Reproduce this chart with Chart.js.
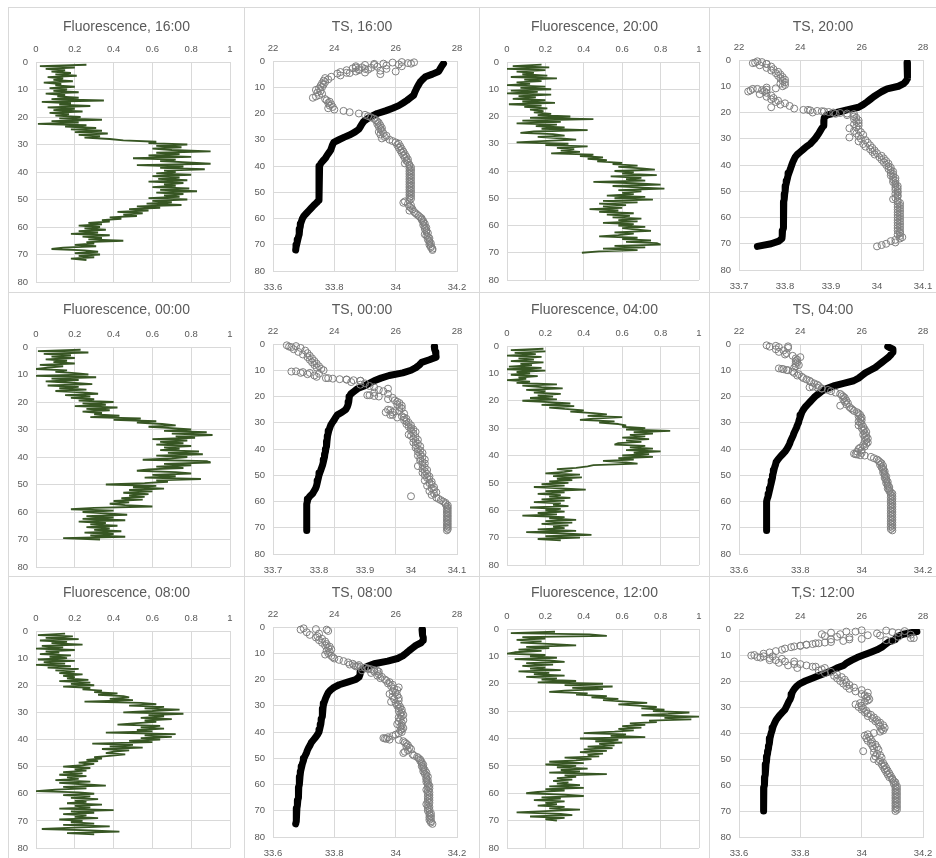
<!DOCTYPE html>
<html>
<head>
<meta charset="utf-8">
<title>Fluorescence and TS profiles</title>
<script src="https://cdn.jsdelivr.net/npm/chart.js@4.4.1/dist/chart.umd.min.js"></script>
<style>
  html, body { margin: 0; padding: 0; background: #fff; }
  body { position: relative; width: 936px; height: 858px; overflow: hidden; }
  .cell { position: absolute; box-sizing: border-box; border: 1px solid #d9d9d9; }
  canvas { position: absolute; }
</style>
</head>
<body>
<script>
// ===== DEPTHS (m) =====
// fluorescence and salinity samples every 0.5 m, temperature every 1 m
const depthF = [
  1, 1.5, 2, 2.5, 3, 3.5, 4, 4.5, 5, 5.5,
  6, 6.5, 7, 7.5, 8, 8.5, 9, 9.5, 10, 10.5,
  11, 11.5, 12, 12.5, 13, 13.5, 14, 14.5, 15, 15.5,
  16, 16.5, 17, 17.5, 18, 18.5, 19, 19.5, 20, 20.5,
  21, 21.5, 22, 22.5, 23, 23.5, 24, 24.5, 25, 25.5,
  26, 26.5, 27, 27.5, 28, 28.5, 29, 29.5, 30, 30.5,
  31, 31.5, 32, 32.5, 33, 33.5, 34, 34.5, 35, 35.5,
  36, 36.5, 37, 37.5, 38, 38.5, 39, 39.5, 40, 40.5,
  41, 41.5, 42, 42.5, 43, 43.5, 44, 44.5, 45, 45.5,
  46, 46.5, 47, 47.5, 48, 48.5, 49, 49.5, 50, 50.5,
  51, 51.5, 52, 52.5, 53, 53.5, 54, 54.5, 55, 55.5,
  56, 56.5, 57, 57.5, 58, 58.5, 59, 59.5, 60, 60.5,
  61, 61.5, 62, 62.5, 63, 63.5, 64, 64.5, 65, 65.5,
  66, 66.5, 67, 67.5, 68, 68.5, 69, 69.5, 70, 70.5,
  71, 71.5, 72, 72.5, 73, 73.5, 74, 74.5, 75
];
const depthT = [
  1, 2, 3, 4, 5, 6, 7, 8, 9, 10,
  11, 12, 13, 14, 15, 16, 17, 18, 19, 20,
  21, 22, 23, 24, 25, 26, 27, 28, 29, 30,
  31, 32, 33, 34, 35, 36, 37, 38, 39, 40,
  41, 42, 43, 44, 45, 46, 47, 48, 49, 50,
  51, 52, 53, 54, 55, 56, 57, 58, 59, 60,
  61, 62, 63, 64, 65, 66, 67, 68, 69, 70,
  71, 72, 73, 74, 75
];

// ===== FLUORESCENCE =====
const fluor1600 = [
  0.26,0.02,0.20,0.05,0.15,0.08,0.18,0.10,0.21,0.06,
  0.14,0.09,0.19,0.04,0.13,0.10,0.20,0.07,0.16,0.09,
  0.22,0.05,0.15,0.11,0.22,0.08,0.35,0.03,0.18,0.12,
  0.28,0.06,0.20,0.09,0.24,0.07,0.17,0.10,0.23,0.12,
  0.34,0.08,0.22,0.01,0.26,0.15,0.31,0.18,0.34,0.20,
  0.37,0.22,0.33,0.25,0.38,0.45,0.62,0.58,0.78,0.62,
  0.75,0.60,0.70,0.90,0.62,0.74,0.58,0.80,0.50,0.72,
  0.64,0.78,0.90,0.52,0.76,0.64,0.87,0.66,0.72,0.62,
  0.80,0.60,0.74,0.63,0.78,0.58,0.76,0.66,0.72,0.60,
  0.79,0.64,0.83,0.62,0.76,0.66,0.74,0.58,0.78,0.60,
  0.70,0.57,0.75,0.52,0.64,0.48,0.58,0.42,0.55,0.45,
  0.52,0.38,0.44,0.34,0.38,0.27,0.34,0.22,0.33,0.25,
  0.36,0.22,0.32,0.18,0.38,0.24,0.34,0.27,0.45,0.26,
  0.30,0.20,0.31,0.14,0.08,0.25,0.32,0.20,0.33,0.22,
  0.30,0.18,0.26
];
const fluor2000 = [
  0.18,0.03,0.22,0.00,0.20,0.05,0.14,0.08,0.21,0.02,
  0.26,0.09,0.18,0.05,0.12,0.00,0.20,0.07,0.23,0.02,
  0.16,0.00,0.23,0.06,0.15,0.03,0.20,0.08,0.25,0.01,
  0.18,0.09,0.21,0.12,0.19,0.14,0.23,0.16,0.33,0.12,
  0.45,0.08,0.28,0.05,0.26,0.15,0.30,0.18,0.42,0.14,
  0.07,0.24,0.30,0.16,0.28,0.36,0.18,0.05,0.32,0.20,
  0.42,0.26,0.35,0.28,0.38,0.23,0.45,0.38,0.50,0.42,
  0.52,0.47,0.60,0.55,0.68,0.58,0.70,0.77,0.56,0.66,
  0.60,0.78,0.54,0.70,0.62,0.72,0.45,0.66,0.80,0.55,
  0.68,0.82,0.58,0.70,0.60,0.66,0.52,0.72,0.56,0.76,
  0.50,0.68,0.48,0.62,0.50,0.60,0.43,0.58,0.48,0.66,
  0.52,0.64,0.55,0.70,0.58,0.68,0.50,0.66,0.58,0.72,
  0.60,0.68,0.75,0.56,0.66,0.58,0.48,0.68,0.60,0.75,
  0.62,0.78,0.80,0.56,0.72,0.50,0.68,0.48,0.39
];
const fluor0000 = [
  0.23,0.01,0.27,0.04,0.18,0.08,0.20,0.05,0.16,0.09,
  0.20,0.02,0.14,0.06,0.00,0.16,0.10,0.20,0.27,0.00,
  0.31,0.08,0.22,0.05,0.18,0.29,0.06,0.22,0.12,0.26,
  0.10,0.24,0.32,0.15,0.28,0.18,0.30,0.22,0.40,0.24,
  0.36,0.20,0.42,0.26,0.38,0.24,0.34,0.30,0.43,0.28,
  0.54,0.40,0.62,0.52,0.65,0.72,0.58,0.70,0.80,0.66,
  0.88,0.70,0.91,0.72,0.82,0.60,0.78,0.64,0.76,0.62,
  0.80,0.66,0.74,0.64,0.84,0.68,0.86,0.62,0.78,0.70,
  0.55,0.88,0.90,0.66,0.80,0.62,0.76,0.58,0.52,0.72,
  0.80,0.60,0.72,0.56,0.85,0.62,0.68,0.56,0.36,0.62,
  0.50,0.66,0.48,0.60,0.45,0.58,0.48,0.56,0.44,0.55,
  0.40,0.48,0.38,0.46,0.60,0.30,0.18,0.40,0.24,0.36,
  0.47,0.26,0.40,0.24,0.46,0.22,0.36,0.28,0.42,0.26,
  0.38,0.30,0.44,0.25,0.40,0.28,0.46,0.14,0.33
];
const fluor0400 = [
  0.19,0.02,0.20,0.04,0.15,0.00,0.18,0.06,0.14,0.02,
  0.19,0.07,0.13,0.01,0.18,0.00,0.20,0.05,0.12,0.02,
  0.16,0.06,0.10,0.00,0.12,0.05,0.26,0.08,0.18,0.29,
  0.10,0.20,0.14,0.28,0.16,0.24,0.12,0.26,0.08,0.22,
  0.33,0.18,0.35,0.22,0.30,0.40,0.33,0.45,0.52,0.42,
  0.60,0.45,0.38,0.56,0.48,0.58,0.62,0.60,0.72,0.62,
  0.85,0.66,0.76,0.64,0.72,0.60,0.74,0.62,0.70,0.58,
  0.56,0.72,0.64,0.76,0.62,0.80,0.66,0.74,0.60,0.76,
  0.58,0.66,0.50,0.62,0.68,0.45,0.42,0.36,0.26,0.34,
  0.30,0.20,0.38,0.24,0.39,0.26,0.34,0.22,0.32,0.18,
  0.30,0.14,0.28,0.41,0.20,0.30,0.16,0.28,0.22,0.33,
  0.18,0.30,0.14,0.28,0.24,0.32,0.12,0.28,0.20,0.30,
  0.16,0.26,0.08,0.30,0.22,0.36,0.20,0.34,0.18,0.32,
  0.24,0.30,0.16,0.36,0.10,0.30,0.44,0.20,0.38,0.16,
  0.28
];
const fluor0800 = [
  0.15,0.01,0.19,0.05,0.22,0.02,0.16,0.08,0.24,0.03,
  0.14,0.00,0.20,0.05,0.12,0.02,0.18,0.07,0.16,0.01,
  0.20,0.04,0.15,0.00,0.18,0.06,0.22,0.10,0.20,0.12,
  0.24,0.14,0.20,0.16,0.27,0.12,0.28,0.18,0.30,0.14,
  0.28,0.24,0.34,0.30,0.42,0.32,0.45,0.48,0.38,0.50,
  0.25,0.54,0.62,0.48,0.66,0.56,0.74,0.60,0.45,0.76,
  0.58,0.66,0.54,0.70,0.56,0.62,0.52,0.42,0.64,0.54,
  0.66,0.52,0.60,0.36,0.72,0.56,0.70,0.54,0.64,0.48,
  0.60,0.29,0.50,0.38,0.55,0.34,0.48,0.40,0.36,0.46,
  0.38,0.30,0.34,0.26,0.32,0.22,0.30,0.24,0.14,0.28,
  0.20,0.26,0.14,0.24,0.12,0.26,0.16,0.22,0.10,0.28,
  0.12,0.24,0.36,0.14,0.26,0.10,0.00,0.22,0.30,0.14,
  0.28,0.18,0.32,0.20,0.26,0.16,0.34,0.20,0.28,0.12,
  0.40,0.18,0.30,0.14,0.26,0.20,0.32,0.12,0.24,0.18,
  0.30,0.14,0.38,0.20,0.03,0.28,0.43,0.16,0.30
];
const fluor1200 = [
  0.25,0.02,0.43,0.52,0.08,0.20,0.05,0.18,0.07,0.24,
  0.36,0.10,0.22,0.06,0.18,0.04,0.00,0.20,0.12,0.26,
  0.04,0.22,0.30,0.10,0.24,0.08,0.20,0.12,0.28,0.06,
  0.22,0.14,0.30,0.10,0.26,0.18,0.36,0.16,0.50,0.30,
  0.55,0.34,0.50,0.30,0.22,0.42,0.36,0.52,0.44,0.58,
  0.50,0.62,0.73,0.58,0.68,0.78,0.70,0.82,0.76,0.95,
  0.84,0.70,1.00,0.82,0.96,0.74,0.78,0.64,0.72,0.60,
  0.70,0.58,0.66,0.56,0.40,0.62,0.54,0.72,0.38,0.58,
  0.46,0.60,0.48,0.56,0.42,0.55,0.40,0.52,0.38,0.50,
  0.42,0.48,0.30,0.44,0.36,0.22,0.40,0.20,0.36,0.26,
  0.42,0.28,0.38,0.22,0.52,0.30,0.36,0.26,0.34,0.24,
  0.32,0.26,0.38,0.22,0.40,0.20,0.30,0.16,0.10,0.30,
  0.40,0.18,0.28,0.14,0.30,0.20,0.26,0.16,0.30,0.22,
  0.38,0.20,0.05,0.28,0.34,0.12,0.30,0.20,0.26
];

// ===== TEMPERATURE (deg C, top axis) =====
const temp1600 = [
  27.56,27.50,27.45,27.40,27.20,26.97,26.88,26.80,26.75,26.70,
  26.66,26.62,26.59,26.48,26.37,26.24,26.10,25.90,25.67,25.40,
  25.22,25.08,24.96,24.90,24.85,24.80,24.68,24.53,24.33,24.15,
  23.98,23.94,23.91,23.88,23.82,23.76,23.71,23.63,23.56,23.52,
  23.50,23.50,23.50,23.50,23.50,23.50,23.50,23.50,23.50,23.50,
  23.50,23.50,23.50,23.42,23.33,23.25,23.17,23.09,23.01,22.96,
  22.93,22.90,22.89,22.87,22.86,22.85,22.83,22.81,22.79,22.77,
  22.75,22.74
];
const temp2000 = [
  27.48,27.48,27.50,27.50,27.50,27.50,27.48,27.45,27.37,27.20,
  26.83,26.66,26.52,26.39,26.28,26.17,26.05,25.90,25.52,25.19,
  24.86,24.78,24.77,24.77,24.76,24.70,24.65,24.60,24.54,24.48,
  24.40,24.32,24.20,24.10,24.00,23.90,23.83,23.79,23.75,23.72,
  23.69,23.66,23.63,23.60,23.58,23.56,23.54,23.52,23.51,23.50,
  23.49,23.48,23.47,23.46,23.45,23.45,23.45,23.45,23.45,23.45,
  23.45,23.45,23.45,23.45,23.42,23.41,23.41,23.40,23.30,23.05,
  22.60
];
const temp0000 = [
  27.26,27.27,27.30,27.31,27.32,27.10,26.85,26.77,26.66,26.50,
  26.23,25.79,25.52,25.30,25.14,24.97,24.76,24.65,24.54,24.49,
  24.48,24.47,24.45,24.42,24.37,24.25,24.10,24.04,23.99,23.93,
  23.88,23.85,23.82,23.80,23.78,23.77,23.76,23.75,23.74,23.72,
  23.71,23.69,23.68,23.66,23.64,23.62,23.59,23.56,23.53,23.50,
  23.48,23.46,23.44,23.42,23.39,23.34,23.29,23.20,23.14,23.12,
  23.10,23.10,23.10,23.10,23.10,23.10,23.10,23.10,23.10,23.10,
  23.10
];
const temp0400 = [
  26.85,27.02,27.02,26.96,26.88,26.77,26.66,26.55,26.44,26.28,
  26.12,26.01,25.90,25.74,25.41,25.08,24.86,24.70,24.59,24.48,
  24.40,24.32,24.24,24.16,24.10,24.05,24.02,23.99,23.96,23.94,
  23.90,23.87,23.83,23.79,23.76,23.72,23.68,23.65,23.61,23.56,
  23.50,23.42,23.34,23.27,23.21,23.19,23.16,23.14,23.12,23.10,
  23.09,23.07,23.05,23.03,23.01,22.99,22.97,22.95,22.92,22.90,
  22.90,22.90,22.90,22.90,22.90,22.90,22.90,22.90,22.90,22.90,
  22.90
];
const temp0800 = [
  26.86,26.87,26.88,26.90,26.90,26.83,26.66,26.55,26.44,26.34,
  26.23,26.06,25.74,25.30,25.08,24.92,24.86,24.84,24.81,24.70,
  24.43,24.16,23.99,23.88,23.80,23.76,23.72,23.69,23.66,23.64,
  23.63,23.62,23.61,23.60,23.58,23.57,23.56,23.54,23.52,23.50,
  23.45,23.39,23.32,23.25,23.21,23.16,23.12,23.09,23.05,23.01,
  22.99,22.96,22.94,22.92,22.90,22.89,22.88,22.87,22.86,22.85,
  22.84,22.84,22.83,22.83,22.82,22.81,22.80,22.79,22.78,22.77,
  22.77,22.76,22.75,22.75,22.74
];
const temp1200 = [
  27.80,27.35,27.15,27.10,26.88,26.77,26.66,26.50,26.28,26.06,
  25.85,25.68,25.52,25.41,25.19,25.03,24.81,24.59,24.37,24.16,
  23.99,23.88,23.81,23.75,23.72,23.70,23.67,23.62,23.58,23.54,
  23.50,23.42,23.34,23.27,23.21,23.17,23.13,23.10,23.08,23.05,
  23.03,23.01,23.00,22.98,22.97,22.96,22.94,22.93,22.91,22.90,
  22.89,22.88,22.87,22.86,22.85,22.85,22.84,22.84,22.83,22.82,
  22.81,22.81,22.81,22.80,22.80,22.80,22.80,22.80,22.80,22.80
];

// ===== SALINITY (bottom axis) =====
const sal1600 = [
  34.05,33.93,34.02,33.87,33.97,33.88,34.00,33.84,33.95,33.82,
  33.79,33.77,33.78,33.765,33.77,33.76,33.765,33.755,33.76,33.75,
  33.74,33.755,33.745,33.76,33.75,33.74,33.73,33.77,33.775,33.785,
  33.78,33.79,33.785,33.795,33.78,33.80,33.83,33.85,33.88,33.90,
  33.91,33.92,33.93,33.935,33.94,33.945,33.94,33.95,33.945,33.955,
  33.95,33.955,33.945,33.96,33.95,33.97,33.965,33.955,33.98,33.99,
  34.00,34.01,34.005,34.015,34.01,34.02,34.015,34.025,34.02,34.03,
  34.025,34.035,34.03,34.04,34.035,34.04,34.03,34.045,34.045,34.05,
  34.045,34.05,34.045,34.05,34.045,34.05,34.045,34.05,34.045,34.05,
  34.045,34.05,34.045,34.05,34.045,34.05,34.045,34.05,34.045,34.05,
  34.045,34.05,34.045,34.05,34.045,34.03,34.025,34.04,34.05,34.045,
  34.05,34.055,34.045,34.06,34.065,34.07,34.075,34.08,34.085,34.085,
  34.09,34.09,34.095,34.09,34.095,34.10,34.095,34.10,34.10,34.105,
  34.095,34.10,34.105,34.11,34.105,34.11,34.11,34.115,34.11,34.115,
  34.115,34.12,34.12
];
const sal2000 = [
  33.735,33.76,33.745,33.77,33.76,33.775,33.77,33.785,33.78,33.79,
  33.785,33.795,33.79,33.80,33.795,33.80,33.79,33.80,33.795,33.76,
  33.73,33.75,33.72,33.76,33.745,33.77,33.76,33.775,33.77,33.785,
  33.78,33.80,33.79,33.81,33.77,33.82,33.85,33.88,33.86,33.91,
  33.935,33.95,33.955,33.95,33.96,33.955,33.96,33.95,33.96,33.955,
  33.94,33.96,33.95,33.965,33.955,33.97,33.96,33.94,33.965,33.975,
  33.96,33.98,33.97,33.985,33.975,33.99,33.985,33.995,33.99,34.00,
  33.995,34.01,34.005,34.015,34.01,34.02,34.015,34.025,34.02,34.025,
  34.03,34.025,34.03,34.035,34.03,34.035,34.03,34.035,34.04,34.035,
  34.04,34.035,34.04,34.04,34.045,34.04,34.045,34.04,34.045,34.045,
  34.04,34.045,34.045,34.04,34.035,34.045,34.045,34.05,34.045,34.05,
  34.045,34.05,34.045,34.05,34.045,34.05,34.045,34.05,34.045,34.05,
  34.045,34.05,34.045,34.05,34.045,34.05,34.045,34.05,34.045,34.05,
  34.05,34.045,34.05,34.055,34.05,34.04,34.03,34.04,34.02,34.01,
  34.00
];
const sal0000 = [
  33.735,33.76,33.745,33.77,33.755,33.775,33.765,33.78,33.775,33.785,
  33.78,33.79,33.785,33.795,33.79,33.80,33.795,33.805,33.81,33.74,
  33.76,33.775,33.79,33.795,33.82,33.86,33.89,33.87,33.90,33.89,
  33.91,33.92,33.95,33.93,33.94,33.92,33.95,33.91,33.93,33.96,
  33.95,33.965,33.97,33.975,33.97,33.98,33.975,33.98,33.95,33.975,
  33.96,33.985,33.955,33.98,33.97,33.99,33.985,33.99,33.995,33.99,
  34.00,33.995,34.00,34.005,34.00,34.01,34.005,33.995,34.00,34.01,
  34.005,34.015,34.01,34.005,34.015,34.01,34.02,34.01,34.015,34.02,
  34.015,34.025,34.02,34.015,34.025,34.02,34.03,34.02,34.025,34.03,
  34.025,34.015,34.03,34.025,34.035,34.03,34.025,34.035,34.03,34.04,
  34.035,34.04,34.03,34.045,34.04,34.045,34.035,34.05,34.045,34.05,
  34.04,34.055,34.05,34.045,34.00,34.055,34.06,34.065,34.07,34.075,
  34.075,34.08,34.078,34.08,34.078,34.08,34.078,34.08,34.078,34.08,
  34.078,34.08,34.078,34.08,34.078,34.08,34.078,34.08,34.078,34.08,
  34.078
];
const sal0400 = [
  33.70,33.76,33.72,33.745,33.73,33.755,33.75,33.775,33.80,33.785,
  33.79,33.785,33.79,33.785,33.795,33.785,33.78,33.74,33.76,33.775,
  33.78,33.795,33.79,33.805,33.81,33.82,33.83,33.835,33.845,33.855,
  33.86,33.83,33.87,33.89,33.90,33.915,33.93,33.935,33.94,33.945,
  33.94,33.95,33.945,33.955,33.95,33.93,33.96,33.965,33.97,33.975,
  33.985,33.99,33.995,33.99,34.00,33.995,34.00,33.99,33.995,34.00,
  33.99,34.005,34.00,34.01,34.005,34.015,34.01,34.005,34.015,34.01,
  34.02,34.015,34.01,34.02,34.015,34.005,34.01,33.995,33.99,34.00,
  33.985,34.00,33.98,34.01,34.03,34.04,34.05,34.055,34.06,34.065,
  34.06,34.07,34.065,34.07,34.07,34.075,34.07,34.075,34.075,34.08,
  34.075,34.08,34.08,34.085,34.08,34.085,34.085,34.09,34.085,34.09,
  34.09,34.095,34.10,34.095,34.10,34.095,34.10,34.095,34.10,34.095,
  34.10,34.095,34.10,34.095,34.10,34.095,34.10,34.095,34.10,34.095,
  34.10,34.095,34.10,34.095,34.10,34.095,34.10,34.095,34.10,34.095,
  34.10
];
const sal0800 = [
  33.69,33.78,33.71,33.75,33.72,33.745,33.74,33.76,33.75,33.77,
  33.76,33.775,33.77,33.785,33.78,33.79,33.775,33.785,33.78,33.77,
  33.79,33.795,33.80,33.815,33.83,33.845,33.86,33.88,33.87,33.90,
  33.91,33.89,33.93,33.92,33.945,33.94,33.955,33.95,33.965,33.97,
  33.98,33.975,33.99,33.985,34.01,33.995,34.005,33.99,34.00,33.98,
  34.005,33.99,34.01,33.995,34.01,33.985,34.00,34.01,34.005,34.015,
  34.01,34.02,34.01,34.02,34.015,34.025,34.02,34.01,34.015,34.025,
  34.01,34.02,34.005,34.02,34.015,34.025,34.02,34.015,34.02,34.01,
  34.00,33.99,33.975,33.965,34.01,34.025,34.03,34.035,34.04,34.035,
  34.045,34.05,34.04,34.03,34.025,34.055,34.06,34.07,34.075,34.08,
  34.08,34.085,34.085,34.09,34.085,34.09,34.09,34.095,34.09,34.10,
  34.095,34.10,34.105,34.10,34.10,34.105,34.10,34.105,34.105,34.11,
  34.105,34.11,34.10,34.105,34.11,34.105,34.11,34.105,34.11,34.105,
  34.11,34.105,34.11,34.10,34.105,34.11,34.105,34.11,34.105,34.11,
  34.115,34.11,34.115,34.11,34.115,34.11,34.115,34.115,34.12
];
const sal1200 = [
  33.98,34.12,33.87,34.06,33.92,34.16,33.96,34.10,33.90,33.85,
  33.82,33.80,33.77,33.75,33.74,33.72,33.70,33.68,33.65,33.71,
  33.67,33.74,33.70,33.78,33.73,33.80,33.76,33.84,33.79,33.87,
  33.86,33.90,33.88,33.92,33.91,33.935,33.92,33.945,33.93,33.95,
  33.94,33.96,33.95,33.975,33.96,34.00,33.98,34.02,34.00,34.01,
  34.02,34.015,34.025,34.02,34.01,33.995,33.98,34.00,33.99,34.005,
  34.00,34.015,34.01,34.02,34.03,34.02,34.04,34.035,34.05,34.045,
  34.06,34.055,34.07,34.06,34.075,34.065,34.07,34.06,34.04,34.02,
  34.01,34.025,34.015,34.03,34.02,34.035,34.03,34.045,34.035,34.05,
  34.04,34.055,34.005,34.04,34.05,34.06,34.045,34.065,34.04,34.06,
  34.055,34.07,34.065,34.075,34.07,34.08,34.075,34.085,34.08,34.09,
  34.085,34.095,34.09,34.10,34.10,34.105,34.11,34.105,34.11,34.115,
  34.11,34.115,34.11,34.115,34.11,34.115,34.11,34.115,34.11,34.115,
  34.11,34.115,34.11,34.115,34.11,34.115,34.11,34.115,34.11
];

// extra salinity readings where the CTD lingered (surface soak, sharp steps)
const salExtra1600 = [34.02,34.06,33.99,34.04,33.96,33.93,34.01,33.90,33.97,33.87,33.94,33.89,33.92,33.86,33.90,33.88,33.91,33.84,33.95,33.87,33.82,33.90,33.85,33.81];
const depthExtra1600 = [0.4,0.5,0.6,0.8,1.0,1.1,1.3,1.5,1.7,2.0,2.2,2.4,2.6,2.8,3.0,3.1,3.3,3.5,3.7,4.0,4.2,4.4,4.6,4.8];
const salExtra2000 = [33.74,33.75,33.73,33.76,33.78,33.74,33.76,33.725,33.755,33.84,33.855,33.87,33.885,33.895,33.905,33.92,33.935,33.95];
const depthExtra2000 = [0.5,0.8,1.2,1.5,10.8,11.0,11.3,11.6,11.9,19.0,19.2,19.4,19.6,19.8,20.0,20.2,20.4,20.6];
const salExtra0000 = [33.73,33.75,33.74,33.75,33.765,33.78,33.80,33.815,33.83,33.845,33.86,33.875,33.89,33.905,33.92,33.955,33.965,33.945,33.96,33.985];
const depthExtra0000 = [0.5,0.8,1.2,10.4,10.7,11.0,11.3,13.0,13.2,13.4,13.6,13.8,14.0,19.5,19.8,25.2,25.6,26.0,27.0,28.0];
const salExtra0400 = [33.69,33.72,33.76,33.73,33.73,33.745,33.755,33.84,33.855,33.87,33.975,33.985,33.995];
const depthExtra0400 = [0.5,0.7,0.9,1.2,9.3,9.6,9.9,16.3,16.6,16.9,41.8,42.1,42.4];
const salExtra0800 = [33.70,33.74,33.775,33.85,33.865,33.875,33.885,33.90,33.91,33.92,33.93,33.94,33.945,33.96,33.97,33.98];
const depthExtra0800 = [0.5,0.8,1.0,14.3,14.6,14.9,15.2,15.5,15.8,16.1,16.4,16.7,17.0,42.3,42.6,42.9];
const salExtra1200 = [
  34.00,34.08,34.14,33.95,34.10,33.90,34.05,33.93,34.16,34.02,
  33.88,34.12,33.96,34.17,34.00,33.90,34.08,33.94,33.88,33.86,
  33.84,33.82,33.80,33.78,33.64,33.68,33.66,33.70,33.72,33.75,
  33.78,33.82,33.85,33.88
];
const depthExtra1200 = [
  0.5,0.6,0.8,1.0,1.2,1.4,1.7,2.0,2.2,2.4,
  2.7,3.0,3.2,3.5,3.8,4.0,4.3,4.6,5.2,5.5,
  5.8,6.1,6.4,6.7,10.2,10.5,10.8,11.2,12.0,12.5,
  13.5,14.0,14.5,15.0
];

// ===== AXIS RANGES =====
const depthRange = [0, 80, 10];
const fluorRange = [0, 1, 0.2];
const tempRange = [22, 28, 2];
const salRangeWide = [33.6, 34.2, 0.2];
const salRangeNarrow = [33.7, 34.1, 0.1];

// ===== LAYOUT (cells and plot areas, page pixels) =====
const FONT = '"Liberation Sans", Arial, sans-serif';
const GRID = '#d9d9d9';
const TEXT = '#595959';

const cols = [ { x: 8, w: 237 }, { x: 244, w: 236 }, { x: 479, w: 231 }, { x: 709, w: 228 } ];
const rows = [ { y: 7, h: 286, titleY: 27 }, { y: 292, h: 285, titleY: 310 }, { y: 576, h: 283, titleY: 593 } ];

const panels = [
  { r: 0, c: 0, kind: 'fluor', title: 'Fluorescence, 16:00', plot: [36, 62, 230, 282], fluor: fluor1600 },
  { r: 0, c: 1, kind: 'ts', title: 'TS, 16:00', plot: [273, 61, 457, 271], temp: temp1600, sal: sal1600, salX: salExtra1600, depX: depthExtra1600, salRange: salRangeWide },
  { r: 0, c: 2, kind: 'fluor', title: 'Fluorescence, 20:00', plot: [507, 62, 699, 280], fluor: fluor2000 },
  { r: 0, c: 3, kind: 'ts', title: 'TS, 20:00', plot: [739, 60, 923, 270], temp: temp2000, sal: sal2000, salX: salExtra2000, depX: depthExtra2000, salRange: salRangeNarrow },
  { r: 1, c: 0, kind: 'fluor', title: 'Fluorescence, 00:00', plot: [36, 347, 230, 567], fluor: fluor0000 },
  { r: 1, c: 1, kind: 'ts', title: 'TS, 00:00', plot: [273, 344, 457, 554], temp: temp0000, sal: sal0000, salX: salExtra0000, depX: depthExtra0000, salRange: salRangeNarrow },
  { r: 1, c: 2, kind: 'fluor', title: 'Fluorescence, 04:00', plot: [507, 346, 699, 565], fluor: fluor0400 },
  { r: 1, c: 3, kind: 'ts', title: 'TS, 04:00', plot: [739, 344, 923, 554], temp: temp0400, sal: sal0400, salX: salExtra0400, depX: depthExtra0400, salRange: salRangeWide },
  { r: 2, c: 0, kind: 'fluor', title: 'Fluorescence, 08:00', plot: [36, 631, 230, 848], fluor: fluor0800 },
  { r: 2, c: 1, kind: 'ts', title: 'TS, 08:00', plot: [273, 627, 457, 837], temp: temp0800, sal: sal0800, salX: salExtra0800, depX: depthExtra0800, salRange: salRangeWide },
  { r: 2, c: 2, kind: 'fluor', title: 'Fluorescence, 12:00', plot: [507, 629, 699, 848], fluor: fluor1200 },
  { r: 2, c: 3, kind: 'ts', title: 'T,S: 12:00', plot: [739, 629, 923, 837], temp: temp1200, sal: sal1200, salX: salExtra1200, depX: depthExtra1200, salRange: salRangeWide }
];

// ===== HELPERS =====
function pts(values, depths) {
  const out = [];
  for (let i = 0; i < values.length && i < depths.length; i++) out.push({ x: values[i], y: depths[i] });
  return out;
}
const fmt = v => String(Math.round(v * 100) / 100);
const fixH = h => s => { s.height = h; s.paddingLeft = 0; s.paddingRight = 0; };
const fixW = w => s => { s.width = w; s.paddingTop = 0; s.paddingBottom = 0; };
const tickFont = { family: FONT, size: 9.5 };

Chart.defaults.font.family = FONT;

function salDataset(data) {
  // open circles, no fill (dense stretches merge into solid grey)
  return {
    data, xAxisID: 'x2', showLine: false, clip: false,
    pointRadius: 3.5, pointBorderWidth: 1,
    pointBorderColor: '#7f7f7f', pointBackgroundColor: 'rgba(255,255,255,0)'
  };
}

function makeChart(p) {
  const col = cols[p.c], row = rows[p.r];
  const cx = col.x, cy = row.y, cw = col.w, ch = row.h;
  const [pl, pt, pr, pb] = p.plot;

  const cell = document.createElement('div');
  cell.className = 'cell';
  cell.style.cssText = `left:${cx}px;top:${cy}px;width:${cw}px;height:${ch}px`;
  document.body.appendChild(cell);

  const cv = document.createElement('canvas');
  cv.width = cw; cv.height = ch;
  cv.style.cssText = `left:${cx}px;top:${cy}px;width:${cw}px;height:${ch}px`;
  document.body.appendChild(cv);

  const titleH = 14 * 1.2;
  const padTop = row.titleY - cy - titleH / 2;
  const topH = pt - cy - padTop - titleH;
  const botH = p.kind === 'ts' ? 20 : 0;
  const padBottom = cy + ch - pb - botH;

  const topRange = p.kind === 'ts' ? tempRange : fluorRange;
  const scales = {
    x: {
      type: 'linear', position: 'top', min: topRange[0], max: topRange[1],
      afterFit: fixH(topH),
      ticks: { stepSize: topRange[2], color: TEXT, font: tickFont, padding: 7, callback: fmt, maxRotation: 0 },
      grid: { color: GRID, drawTicks: false },
      border: { color: GRID }
    },
    y: {
      type: 'linear', position: 'left', reverse: true,
      min: depthRange[0], max: depthRange[1],
      afterFit: fixW(pl - cx),
      ticks: { stepSize: depthRange[2], color: TEXT, font: tickFont, padding: 8, callback: fmt },
      grid: { color: GRID, drawTicks: false },
      border: { color: GRID }
    },
    yR: {
      type: 'linear', position: 'right', display: true,
      afterFit: fixW(cx + cw - pr),
      ticks: { display: false },
      grid: { display: false },
      border: { display: false }
    }
  };

  let datasets;
  if (p.kind === 'fluor') {
    datasets = [{
      data: pts(p.fluor, depthF),
      showLine: true, borderColor: '#375623', borderWidth: 1.8,
      borderJoinStyle: 'bevel', pointRadius: 0, tension: 0
    }];
  } else {
    scales.x2 = {
      type: 'linear', axis: 'x', position: 'bottom',
      min: p.salRange[0], max: p.salRange[1],
      afterFit: fixH(botH),
      ticks: { stepSize: p.salRange[2], color: TEXT, font: tickFont, padding: 3, callback: fmt, maxRotation: 0 },
      grid: { display: false },
      border: { display: true, color: GRID }
    };
    datasets = [
      salDataset(pts(p.sal, depthF)),
      salDataset(pts(p.salX, p.depX)),
      {
        // temperature: thick black profile
        data: pts(p.temp, depthT),
        showLine: true, borderColor: '#000000', borderWidth: 7,
        borderCapStyle: 'round', borderJoinStyle: 'round',
        pointRadius: 0, tension: 0
      }
    ];
  }

  new Chart(cv.getContext('2d'), {
    type: 'scatter',
    data: { datasets },
    options: {
      responsive: false,
      animation: false,
      devicePixelRatio: 1,
      events: [],
      layout: { padding: { left: 0, right: 0, top: padTop, bottom: padBottom } },
      scales,
      plugins: {
        legend: { display: false },
        tooltip: { enabled: false },
        title: {
          display: true, text: p.title, color: TEXT,
          font: { family: FONT, size: 14, weight: 'normal' },
          padding: 0
        }
      }
    }
  });
}

panels.forEach(makeChart);
</script>
</body>
</html>
